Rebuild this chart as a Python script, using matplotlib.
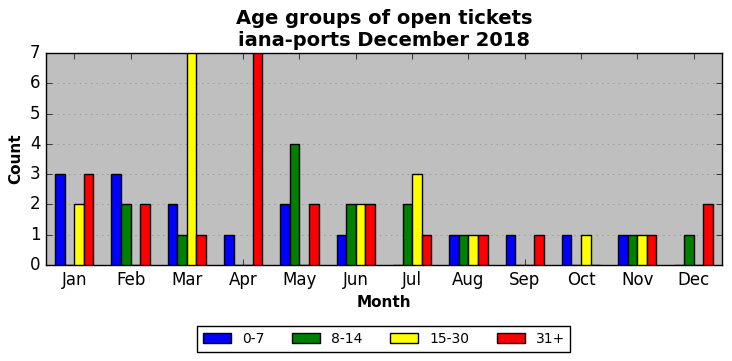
import numpy as np
import matplotlib.pyplot as plt

plt.style.use('classic')

months = ['Jan', 'Feb', 'Mar', 'Apr', 'May', 'Jun', 'Jul', 'Aug', 'Sep', 'Oct', 'Nov', 'Dec']
groups = ['0-7', '8-14', '15-30', '31+']
colors = ['blue', 'green', 'yellow', 'red']

age_0_7 = [3, 3, 2, 1, 2, 1, 0, 1, 1, 1, 1, 0]
age_8_14 = [0, 2, 1, 0, 4, 2, 2, 1, 0, 0, 1, 1]
age_15_30 = [2, 0, 7, 0, 0, 2, 3, 1, 0, 1, 1, 0]
age_31_plus = [3, 2, 1, 7, 2, 2, 1, 1, 1, 0, 1, 2]

series = [age_0_7, age_8_14, age_15_30, age_31_plus]

fig = plt.figure(figsize=(7.32, 3.61), dpi=100, facecolor='white')
ax = fig.add_axes([0.063, 0.266, 0.923, 0.587])
ax.set_facecolor('#bfbfbf')

x = np.arange(len(months))
width = 0.17
for k, (vals, name, col) in enumerate(zip(series, groups, colors)):
    ax.bar(x - 0.34 + k * width, vals, width, align='edge', color=col,
           edgecolor='black', linewidth=1, label=name, zorder=3)

ax.set_xticks(x)
ax.set_xticklabels(months)
ax.set_xlim(-0.5, 11.5)
ax.set_ylim(0, 7)
ax.yaxis.grid(True, linestyle=':', color='#888888', zorder=0)
ax.set_axisbelow(True)
ax.tick_params(labelsize=12)
ax.set_xlabel('Month', fontsize=11, fontweight='bold')
ax.set_ylabel('Count', fontsize=11, fontweight='bold')
ax.set_title('Age groups of open tickets\niana-ports December 2018', fontsize=14, fontweight='bold')

ax.legend(loc='upper center', bbox_to_anchor=(0.5, -0.29), ncol=4, fontsize=10,
          handlelength=2.0, columnspacing=2.0, borderaxespad=0)

fig.savefig('out.png', dpi=100, facecolor='white')
